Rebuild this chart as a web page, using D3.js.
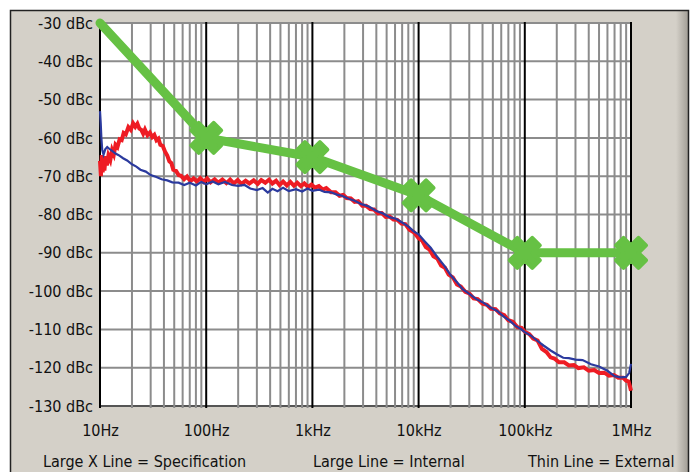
<!DOCTYPE html>
<html>
<head>
<meta charset="utf-8">
<script src="https://cdn.jsdelivr.net/npm/d3@7"></script>
<style>
  body { margin: 0; background: #fff; }
  svg { display: block; }
  .lbl { font-family: "DejaVu Sans Condensed", "Liberation Sans", sans-serif; font-size: 16px; fill: #111; }
</style>
</head>
<body>
<svg width="694" height="472"></svg>
<script>
// tick values / labels
var xTicks = [10, 100, 1e3, 1e4, 1e5, 1e6];
var xTickLabels = ["10Hz", "100Hz", "1kHz", "10kHz", "100kHz", "1MHz"];
var yTicks = [-130, -120, -110, -100, -90, -80, -70, -60, -50, -40, -30];

// spec limit (Large X Line)
var specFreq = [10, 100, 1e3, 1e4, 1e5, 1e6];
var specDbc = [-30, -60, -65, -75, -90, -90];

// internal (large red line), [Hz, dBc]
var internalData = [
  [10, -66], [10.2, -70], [10.4, -64.5], [10.6, -69], [10.8, -65.5], [11, -68.5], [11.3, -64.8],
  [11.6, -67.2], [12, -64.6], [12.5, -65.8], [13, -63.2], [13.5, -64.3], [14, -61.8], [14.6, -62.4],
  [15.3, -60.4], [16, -60.6], [16.7, -58.7], [17.5, -59.1], [18.5, -57.2], [19.5, -57.9],
  [20.5, -56.2], [21.5, -57.1], [22.5, -56.3], [23.5, -57.6], [24.5, -57.9], [25.5, -58.9],
  [26.5, -57.8], [28, -59.3], [29.5, -58.6], [31, -59.8], [32.5, -59.2], [34, -60.6], [35.5, -60.2],
  [37, -61.8], [39, -62.1], [41, -63.6], [43, -64.6], [45, -66.1], [47, -66.6], [49, -68.3],
  [52, -68.6], [55, -69.7], [58, -69.9], [62, -70.8], [66, -70.1], [71, -71.3], [76, -70.6],
  [82, -71.4], [88, -70.5], [95, -71.5], [102, -70.6], [110, -71.6], [120, -70.8], [130, -71.7],
  [142, -70.9], [155, -71.8], [168, -70.9], [182, -71.9], [198, -71.0], [215, -72.0], [235, -71.2],
  [255, -71.9], [280, -71.1], [305, -72.0], [330, -71.0], [360, -71.7], [390, -70.9], [420, -71.9],
  [455, -71.2], [490, -72.3], [530, -71.4], [575, -72.4], [620, -71.5], [670, -72.5], [720, -71.7],
  [780, -72.6], [840, -71.9], [910, -72.8], [980, -72.2], [1060, -73.0], [1150, -72.6],
  [1250, -73.5], [1350, -73.1], [1500, -74.2], [1650, -74.2], [1800, -75.1], [1950, -74.9],
  [2100, -75.7], [2300, -75.8], [2500, -76.7], [2700, -76.5], [2950, -77.7], [3200, -77.7],
  [3500, -78.6], [3800, -78.7], [4150, -79.7], [4500, -79.6], [4900, -80.6], [5300, -80.5],
  [5800, -81.3], [6300, -81.4], [6900, -82.4], [7500, -82.5], [8200, -84.0], [9000, -84.6],
  [10000, -86.2], [10800, -86.8], [11700, -88.5], [12700, -89.2], [13800, -90.9], [15000, -91.5],
  [16300, -93.3], [17700, -93.9], [19200, -95.7], [21000, -96.4], [23000, -98.3], [25000, -98.8],
  [27500, -100.2], [30000, -100.6], [33000, -101.9], [36000, -102.1], [40000, -103.3],
  [44000, -103.6], [48000, -104.6], [53000, -104.7], [58000, -105.8], [64000, -106.3],
  [70000, -107.6], [77000, -108.0], [85000, -109.4], [93000, -109.6], [100000, -110.6],
  [110000, -111.2], [120000, -112.4], [132000, -112.9], [145000, -115.1], [160000, -115.9],
  [175000, -117.3], [190000, -117.6], [210000, -118.6], [235000, -118.6], [260000, -119.4],
  [290000, -119.3], [320000, -120.1], [360000, -119.9], [400000, -120.8], [450000, -120.6],
  [500000, -121.4], [560000, -121.3], [620000, -122.1], [690000, -121.9], [760000, -122.6],
  [840000, -122.6], [900000, -123.4], [950000, -123.6], [980000, -125], [1000000, -126]
];

// external (thin blue line), [Hz, dBc]
var externalData = [
  [10, -53], [10.15, -56], [10.3, -60], [10.5, -63.2], [10.8, -64.4], [11.2, -63], [11.7, -62.4],
  [12.3, -62.9], [13, -63.4], [14, -64.1], [15, -64.5], [16.5, -65.3], [18, -65.9], [20, -66.9],
  [22, -67.5], [24, -68.3], [27, -68.8], [30, -69.7], [34, -70.2], [38, -70.8], [43, -71.1],
  [48, -71.6], [55, -71.7], [62, -72.3], [70, -71.7], [80, -72.4], [90, -71.5], [100, -72.1],
  [115, -71.4], [130, -72.1], [150, -71.5], [175, -72.3], [200, -72.5], [230, -72.3],
  [260, -73.2], [300, -73.6], [340, -73.1], [380, -74.3], [420, -73.3], [470, -73.9],
  [530, -73.0], [600, -73.9], [700, -73.4], [800, -74.0], [900, -73.2], [1000, -73.8],
  [1150, -73.5], [1300, -74.1], [1500, -74.2], [1700, -74.8], [1900, -75.1], [2200, -75.9],
  [2500, -76.4], [2900, -77.3], [3400, -77.9], [4000, -79.1], [4600, -79.7], [5300, -80.7],
  [6100, -81.1], [7000, -82.1], [8000, -83.1], [9000, -84.4], [10000, -85.2], [11500, -87.1],
  [13000, -88.7], [15000, -91.1], [17500, -93.4], [20000, -95.8], [23000, -97.7], [26000, -99.5],
  [30000, -100.7], [35000, -102.1], [40000, -102.9], [47000, -104.2], [55000, -105.2],
  [63000, -106.6], [72000, -107.7], [82000, -109.1], [92000, -109.9], [100000, -110.7],
  [115000, -111.7], [130000, -112.9], [150000, -114.2], [175000, -115.5], [200000, -116.5],
  [230000, -117.4], [260000, -117.5], [300000, -117.9], [350000, -118.0], [420000, -119.1],
  [500000, -119.7], [600000, -120.8], [700000, -122.2], [800000, -122.5], [900000, -122.4],
  [960000, -121.4], [1000000, -119]
];

var legendTexts = ["Large X Line = Specification", "Large Line = Internal", "Thin Line = External"];

var svg = d3.select("svg");
var panel = "#d4d0c8";

// window background and frame
svg.append("rect").attr("x", 10).attr("y", 10).attr("width", 678).attr("height", 462).attr("fill", panel);
var grad = svg.append("defs").append("linearGradient").attr("id", "edge");
grad.append("stop").attr("offset", "0").attr("stop-color", panel);
grad.append("stop").attr("offset", "1").attr("stop-color", "#a29e96");
svg.append("rect").attr("x", 676).attr("y", 11).attr("width", 12).attr("height", 461).attr("fill", "url(#edge)");
svg.append("path").attr("d", "M10.5,472V10.5H688.5V472").attr("fill", "none").attr("stroke", "#222").attr("stroke-width", 1.5);

var x = d3.scaleLog().domain([10, 1e6]).range([100, 631]);
var y = d3.scaleLinear().domain([-130, -30]).range([406, 23]);

// plot area
svg.append("rect").attr("x", 100).attr("y", 23).attr("width", 531).attr("height", 383).attr("fill", "#fff");

var grid = svg.append("g");
grid.selectAll("line.h").data(yTicks).enter().append("line")
  .attr("x1", 100).attr("x2", 631)
  .attr("y1", d => y(d)).attr("y2", d => y(d))
  .attr("stroke", d => d === -130 ? "#555" : "#8c8c8c").attr("stroke-width", 2);

var isDecade = t => Math.abs(Math.log10(t) - Math.round(Math.log10(t))) < 1e-9;
grid.selectAll("line.v").data(x.ticks()).enter().append("line")
  .attr("x1", d => x(d)).attr("x2", d => x(d))
  .attr("y1", 22).attr("y2", 408)
  .attr("stroke", d => isDecade(d) ? "#000" : "#8c8c8c").attr("stroke-width", 2);

// axes (labels only)
var xAxis = svg.append("g").attr("transform", "translate(0,422)")
  .call(d3.axisBottom(x).tickValues(xTicks).tickSize(0).tickFormat((d, i) => xTickLabels[i]));
var yAxis = svg.append("g").attr("transform", "translate(93,0)")
  .call(d3.axisLeft(y).tickValues(yTicks).tickSize(0).tickFormat(d => d + " dBc"));
[xAxis, yAxis].forEach(function(a) {
  a.select(".domain").remove();
  a.selectAll("text").attr("class", "lbl").attr("font-family", null).attr("font-size", null);
});
yAxis.selectAll("text").attr("dx", 0).attr("x", 0);

// measured curves
var line = d3.line().x(d => x(d[0])).y(d => y(d[1]));
svg.append("path").datum(internalData).attr("d", line)
  .attr("fill", "none").attr("stroke", "#ee1c24").attr("stroke-width", 4).attr("stroke-linejoin", "miter");
svg.append("path").datum(externalData).attr("d", line)
  .attr("fill", "none").attr("stroke", "#2b3a9e").attr("stroke-width", 2.2).attr("stroke-linejoin", "miter");

// spec line + X markers
var green = "#66c144";
var spec = specFreq.map((f, i) => [f, specDbc[i]]);
svg.append("path").datum(spec).attr("d", line)
  .attr("fill", "none").attr("stroke", green).attr("stroke-width", 9)
  .attr("stroke-linecap", "round").attr("stroke-linejoin", "round");
svg.append("g").selectAll("path").data(spec.slice(1)).enter().append("path")
  .attr("d", d3.symbol(d3.symbolCross, 560))
  .attr("transform", d => "translate(" + x(d[0]) + "," + y(d[1]) + ") rotate(45)")
  .attr("fill", green).attr("stroke", green).attr("stroke-width", 4).attr("stroke-linejoin", "round");

// legend line at the bottom
var legendX = [43, 313, 528];
svg.append("g").selectAll("text").data(legendTexts).enter().append("text")
  .attr("class", "lbl").attr("x", (d, i) => legendX[i]).attr("y", 467).text(d => d);
</script>
</body>
</html>
